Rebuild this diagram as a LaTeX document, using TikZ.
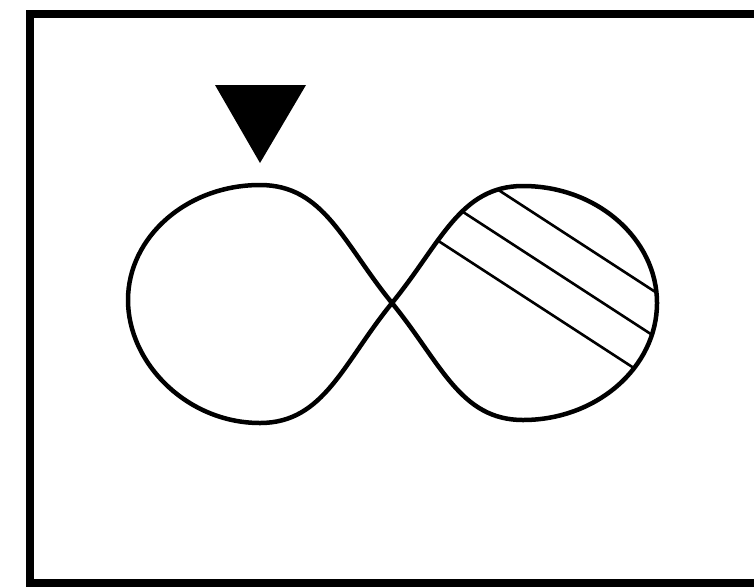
\documentclass[tikz,border=0pt]{standalone}
\usepackage{tikz}
\usetikzlibrary{positioning}

\tikzset{
    outline/.style={line width=4.5pt, line join=round},
    hatchline/.style={line width=2.6pt},
    framebox/.style={line width=7.5pt}
}

\begin{document}
\begin{tikzpicture}[x=1pt, y=-1pt]
    % Fix the page size
    \useasboundingbox (0,0) rectangle (754,587);
    \clip (0,0) rectangle (754,587);

    % Draw the frame (right side runs off the page)
    \draw[framebox] (770,14) -- (30,14) -- (30,583) -- (770,583);

    % Define the crossing point of the loops
    \coordinate (X) at (392,303);

    % Draw the marker triangle above the left loop
    \fill (215,85) -- (306,85) -- (260,163) -- cycle;

    % Hatch the right loop
    \begin{scope}
        \clip (X) .. controls (441,243) and (460,186) .. (523,186)
            .. controls (597,186) and (657,239) .. (657,303)
            .. controls (657,367) and (597,420) .. (523,420)
            .. controls (460,420) and (441,363) .. (X);
        \foreach \dy in {0,45,90} {
            \draw[hatchline] (420,139+\dy) -- (700,139+\dy+182);
        }
    \end{scope}

    % Draw the figure-eight
    \draw[outline] (X) .. controls (343,243) and (324,185) .. (260,185)
        .. controls (187,185) and (128,237) .. (128,300)
        .. controls (128,363) and (187,423) .. (260,423)
        .. controls (324,423) and (343,363) .. (X)
        .. controls (441,243) and (460,186) .. (523,186)
        .. controls (597,186) and (657,239) .. (657,303)
        .. controls (657,367) and (597,420) .. (523,420)
        .. controls (460,420) and (441,363) .. (X);

\end{tikzpicture}
\end{document}
